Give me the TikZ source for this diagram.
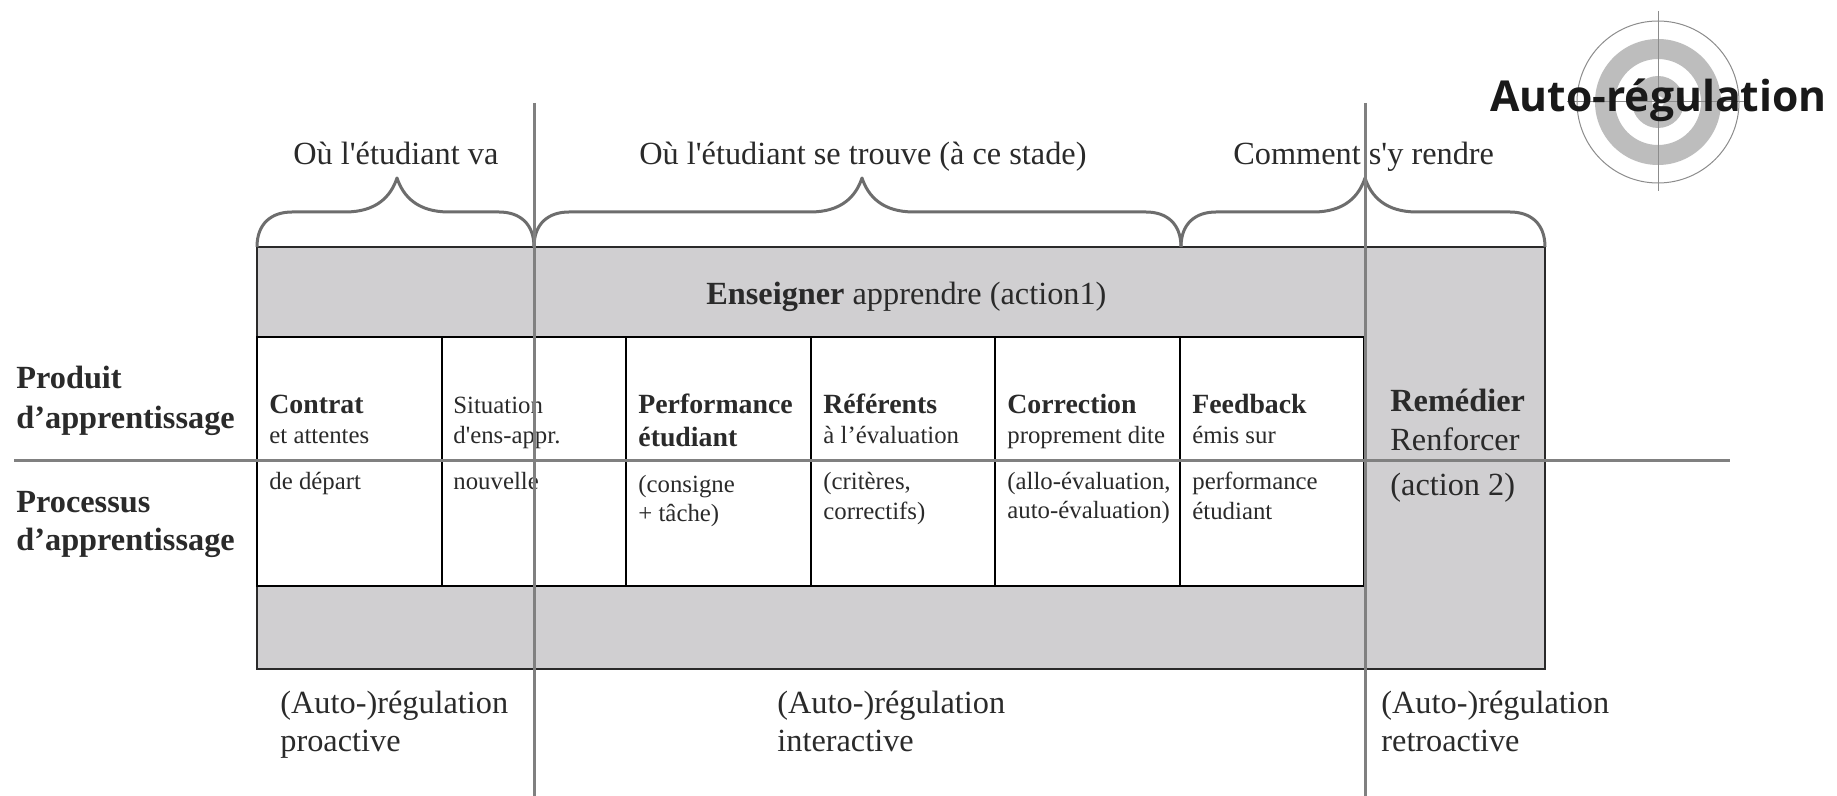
\documentclass[tikz,border=0pt]{standalone}
\usepackage{fontspec}
\setmainfont{Liberation Serif}
\newfontfamily\titlefont{Open Sans}
\newfontfamily\plainfont{Liberation Serif}
\usetikzlibrary{calc}
\definecolor{bandgray}{HTML}{D0CFD1}
\definecolor{rulegray}{HTML}{808080}
\definecolor{ringgray}{HTML}{BDBDBD}
\definecolor{inkgray}{HTML}{2A2A2A}
\newcommand{\sq}{{\plainfont'}}
\newcommand{\bracepath}[3]{%
  \draw[bracket] (#1) .. controls +(0,-24) and +(-20,0) .. ++(35,-35)
    -- ($(#2)+(-52,34)$) .. controls +(32,0) and +(-6,18) .. (#2)
    .. controls +(6,18) and +(-32,0) .. ($(#2)+(52,34)$)
    -- ($(#3)+(-35,-35)$) .. controls +(20,0) and +(0,-24) .. (#3);}
\begin{document}
\begin{tikzpicture}[x=.5pt,y=-.5pt,node distance=92.25pt,
  cell/.style={rectangle,draw=black,line width=1.1pt,fill=white,minimum width=92.25pt,minimum height=124.5pt,inner sep=0pt,outer sep=0pt},
  big/.style={anchor=base west,inner sep=0pt,text=inkgray,font=\fontsize{16.15}{18}\selectfont},
  side/.style={big,font=\fontsize{16.15}{18}\selectfont\bfseries},
  small/.style={big,font=\fontsize{12.4}{14}\selectfont},
  smallb/.style={big,font=\fontsize{13.9}{16}\selectfont\bfseries},
  rule/.style={draw=rulegray,line width=1.5pt},
  bracket/.style={draw=rulegray!85!black,line width=1.5pt,line join=round}]

  \useasboundingbox[fill=white] (0,0) rectangle (1837,796);

  % target
  \fill[ringgray,even odd rule] (1658,102) circle (63) (1658,102) circle (43);
  \fill[ringgray,even odd rule] (1658,102) circle (26) (1658,102) circle (6);
  \draw[gray!90,line width=.5pt] (1658,102) circle (81);
  \draw[gray!90,line width=.5pt] (1658,11) -- (1658,191) (1567,102) -- (1749,102);
  \node[anchor=base west,inner sep=0pt,text=black!90,font=\fontsize{21.3}{24}\selectfont\titlefont\bfseries] (autoreg) at (1490,112) {Auto-régulation};

  % outer frame
  \node[rectangle,draw=inkgray,line width=1.2pt,fill=bandgray,minimum width=644pt,minimum height=211pt,inner sep=0pt,outer sep=0pt] (frame) at (901,458) {};

  % cells
  \node[cell] (contrat) at (349.5,461.5) {};
  \node[cell] (situation) [right of=contrat] {};
  \node[cell] (performance) [right of=situation] {};
  \node[cell] (referents) [right of=performance] {};
  \node[cell] (correction) [right of=referents] {};
  \node[cell] (feedback) [right of=correction] {};

  % cell texts
  \node[smallb] (t1a) at (269,414) {Contrat};
  \node[small] (t1b) at (269,444) {et attentes};
  \node[small] (t1c) at (269,489) {de départ};
  \node[small] (t2a) at (453,414) {Situation};
  \node[small] (t2b) at (453,444) {d\sq ens-appr.};
  \node[small] (t2c) at (453,489) {nouvelle};
  \node[smallb] (t3a) at (638,414) {Performance};
  \node[smallb] (t3b) at (638,447) {étudiant};
  \node[small] (t3c) at (638,493) {(consigne};
  \node[small] (t3d) at (638,522) {+ tâche)};
  \node[smallb] (t4a) at (823,414) {Référents};
  \node[small] (t4b) at (823,444) {à l’évaluation};
  \node[small] (t4c) at (823,490) {(critères,};
  \node[small] (t4d) at (823,519) {correctifs)};
  \node[smallb] (t5a) at (1007,414) {Correction};
  \node[small] (t5b) at (1007,444) {proprement dite};
  \node[small] (t5c) at (1007,489) {(allo-évaluation,};
  \node[small] (t5d) at (1007,518) {auto-évaluation)};
  \node[smallb] (t6a) at (1192,414) {Feedback};
  \node[small] (t6b) at (1192,444) {émis sur};
  \node[small] (t6c) at (1192,489) {performance};
  \node[small] (t6d) at (1192,519) {étudiant};

  \node[big] (action) at (706,305) {\textbf{Enseigner} apprendre (action1)};
  \node[big] (rem1) at (1390,412) {\textbf{Remédier}};
  \node[big] (rem2) at (1390,451) {Renforcer};
  \node[big] (rem3) at (1390,495) {(action 2)};

  \node[side] (prod1) at (16,389) {Produit};
  \node[side] (prod2) at (16,429) {d’apprentissage};
  \node[side] (proc1) at (16,513) {Processus};
  \node[side] (proc2) at (16,551) {d’apprentissage};

  \node[big] (q1) at (293,165) {Où l\sq étudiant va};
  \node[big] (q2) at (639,165) {Où l\sq étudiant se trouve (à ce stade)};
  \node[big] (q3) at (1233,165) {Comment s\sq y rendre};

  \node[big] (pro1) at (280,713) {(Auto-)régulation};
  \node[big] (pro2) at (280,751) {proactive};
  \node[big] (int1) at (777,713) {(Auto-)régulation};
  \node[big] (int2) at (777,751) {interactive};
  \node[big] (ret1) at (1381,713) {(Auto-)régulation};
  \node[big] (ret2) at (1381,751) {retroactive};

  % braces
  \coordinate (b0) at (257,247);
  \coordinate (b1) at (534,247);
  \coordinate (b2) at (1181,247);
  \coordinate (b3) at (1545,247);
  \coordinate (tip1) at (397,178);
  \coordinate (tip2) at (862,178);
  \coordinate (tip3) at (1365,178);
  \bracepath{b0}{tip1}{b1}
  \bracepath{b1}{tip2}{b2}
  \bracepath{b2}{tip3}{b3}

  % long grey lines
  \coordinate (h0) at (14,461);
  \coordinate (h1) at (1730,461);
  \coordinate (v0) at (534,103);
  \coordinate (v1) at (534,796);
  \coordinate (w0) at (1365,103);
  \coordinate (w1) at (1365,796);
  \path[rule] (h0) edge (h1)
        (v0) edge (v1)
        (w0) edge (w1);
\end{tikzpicture}
\end{document}
